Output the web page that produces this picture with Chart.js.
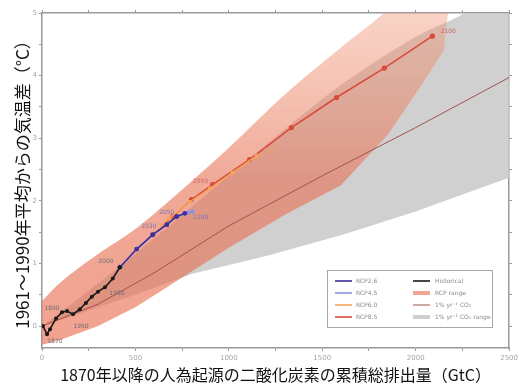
<!DOCTYPE html>
<html>
<head>
<meta charset="utf-8">
<script src="https://cdn.jsdelivr.net/npm/chart.js@4.4.1/dist/chart.umd.min.js"></script>
<style>
  html, body { margin: 0; padding: 0; background: #fff; }
</style>
</head>
<body>
<canvas id="chart" width="521" height="385"></canvas>
<script>
// cumulative CO2 emissions since 1870 (GtC) vs temperature anomaly (°C)

const histX = [5, 27, 43, 75, 107, 134, 166, 203, 235, 267, 300, 337, 379, 417];
const histY = [0.0, -0.13, -0.05, 0.12, 0.22, 0.24, 0.19, 0.27, 0.37, 0.47, 0.55, 0.62, 0.76, 0.94];

const rcp26X = [417, 507, 593, 668, 721, 764];
const rcp26Y = [0.94, 1.23, 1.46, 1.62, 1.75, 1.80];
const rcp45X = [417, 507, 593, 668, 721, 780, 805];
const rcp45Y = [0.94, 1.23, 1.46, 1.62, 1.75, 1.81, 1.83];
const rcp60X = [593, 680, 790, 900, 1020, 1150];
const rcp60Y = [1.46, 1.72, 1.98, 2.20, 2.45, 2.72];
const rcp85X = [593, 700, 800, 913, 1111, 1335, 1576, 1832, 2089];
const rcp85Y = [1.46, 1.75, 2.02, 2.26, 2.66, 3.17, 3.65, 4.12, 4.63];

// RCP range plume
const rcpRangeX = [0, 100, 300, 500, 700, 1000, 1300, 1600, 1850, 2020, 2150, 2180];
const rcpRangeHi = [0.40, 0.70, 1.15, 1.55, 2.05, 2.85, 3.70, 4.45, 5.05, 5.60, 6.00, 6.10];
const rcpRangeLo = [-0.30, -0.22, 0.00, 0.30, 0.68, 1.25, 1.78, 2.25, 3.05, 3.80, 4.40, 5.20];

// 1% per year CO2 runs
const onePctX = [0, 300, 600, 1000, 1500, 2000, 2500];
const onePctY = [0.0, 0.35, 0.85, 1.60, 2.40, 3.17, 3.97];
const onePctRangeX = [0, 200, 500, 800, 1200, 1600, 2000, 2250, 2500];
const onePctRangeHi = [0.0, 0.45, 1.15, 1.90, 2.90, 3.85, 4.62, 4.98, 5.50];
const onePctRangeLo = [0.0, 0.20, 0.50, 0.83, 1.12, 1.45, 1.83, 2.10, 2.37];

const xTicks = [0, 250, 500, 750, 1000, 1250, 1500, 1750, 2000, 2250, 2500];
const yTicks = [0, 0.5, 1, 1.5, 2, 2.5, 3, 3.5, 4, 4.5, 5];

const xTitle = '1870年以降の人為起源の二酸化炭素の累積総排出量（GtC）';
const yTitle = '1961～1990年平均からの気温差（°C）';

const legendLeft = ['RCP2.6', 'RCP4.5', 'RCP6.0', 'RCP8.5'];
const legendRight = ['Historical', 'RCP range', '1% yr⁻¹ CO₂', '1% yr⁻¹ CO₂ range'];

// year tags next to points: [series, point index, text, dx, dy]
const yearTags = [
  ['Historical', 0, '1870', 12, 15],
  ['Historical', 3, '1890', -4, -10],
  ['Historical', 6, '1950', 8, 12],
  ['Historical', 11, '1980', 12, 6],
  ['Historical', 13, '2000', -14, -6],
  ['RCP2.6', 2, '2030', -4, -8],
  ['RCP2.6', 3, '2050', 0, -12],
  ['RCP2.6', 5, '2100', 16, 4],
  ['RCP8.5', 3, '2050', -12, -3],
  ['RCP6.0', 5, '2100', 14, -4],
  ['RCP8.5', 8, '2100', 16, -5]
];

const pts = (xs, ys) => xs.map((x, i) => ({ x, y: ys[i] }));

const C = {
  rcp26: '#3a2f9c',
  rcp45: '#8a92da',
  rcp60: '#f3a45e',
  rcp85: '#da4a3b',
  hist: '#1a1a1a',
  onePct: '#a0524a',
  rcpRange: 'rgba(232, 112, 82, 0.62)',
  onePctRange: 'rgba(200, 200, 200, 0.85)'
};

// plume gets paler towards the top, as in the original
function plumeFill(context) {
  const chart = context.chart;
  const area = chart.chartArea;
  if (!area) return C.rcpRange;
  const g = chart.ctx.createLinearGradient(0, area.bottom, 0, area.top);
  g.addColorStop(0, 'rgba(232, 110, 80, 0.64)');
  g.addColorStop(0.5, 'rgba(232, 112, 82, 0.6)');
  g.addColorStop(1, 'rgba(240, 150, 118, 0.42)');
  return g;
}

function lineSet(label, xs, ys, color, width, radius, order) {
  return {
    label, data: pts(xs, ys), showLine: true, borderColor: color, backgroundColor: color,
    borderWidth: width, pointRadius: radius, pointHoverRadius: radius, pointBorderWidth: 0,
    fill: false, order, tension: 0
  };
}

const datasets = [
  lineSet('Historical', histX, histY, C.hist, 1.6, 2, 1),
  lineSet('RCP2.6', rcp26X, rcp26Y, C.rcp26, 1.6, 2.4, 2),
  lineSet('RCP4.5', rcp45X, rcp45Y, C.rcp45, 1.6, 2.2, 3),
  lineSet('RCP6.0', rcp60X, rcp60Y, C.rcp60, 1.6, 2.2, 4),
  lineSet('RCP8.5', rcp85X, rcp85Y, C.rcp85, 1.6, 2.6, 5),
  lineSet('1% yr⁻¹ CO₂', onePctX, onePctY, C.onePct, 1, 0, 6),
  // index 6, 7: RCP range
  { label: 'rcpLo', data: pts(rcpRangeX, rcpRangeLo), showLine: true, borderWidth: 0, borderColor: 'transparent', pointRadius: 0, fill: false, order: 7 },
  { label: 'RCP range', data: pts(rcpRangeX, rcpRangeHi), showLine: true, borderWidth: 0, borderColor: 'transparent', pointRadius: 0, fill: 6, backgroundColor: plumeFill, order: 8, tension: 0.3 },
  // index 8, 9: 1% range
  { label: 'onePctLo', data: pts(onePctRangeX, onePctRangeLo), showLine: true, borderWidth: 0, borderColor: 'transparent', pointRadius: 0, fill: false, order: 9 },
  { label: '1% yr⁻¹ CO₂ range', data: pts(onePctRangeX, onePctRangeHi), showLine: true, borderWidth: 0, borderColor: 'transparent', pointRadius: 0, fill: 8, backgroundColor: C.onePctRange, order: 10, tension: 0.3 }
];

const legendStyle = {
  'RCP2.6': { c: C.rcp26, t: 'line' },
  'RCP4.5': { c: C.rcp45, t: 'line' },
  'RCP6.0': { c: C.rcp60, t: 'line' },
  'RCP8.5': { c: C.rcp85, t: 'line' },
  'Historical': { c: C.hist, t: 'line' },
  'RCP range': { c: C.rcpRange, t: 'box' },
  '1% yr⁻¹ CO₂': { c: C.onePct, t: 'thin' },
  '1% yr⁻¹ CO₂ range': { c: '#cfcfcf', t: 'box' }
};

const boxLegend = {
  id: 'boxLegend',
  afterDatasetsDraw(chart) {
    const ctx = chart.ctx;
    const x0 = 327, y0 = 270, w = 165, h = 57;
    ctx.save();
    ctx.fillStyle = '#fff';
    ctx.fillRect(x0, y0, w, h);
    ctx.strokeStyle = '#a8a8a8';
    ctx.lineWidth = 1;
    ctx.strokeRect(x0 + 0.5, y0 + 0.5, w, h);
    ctx.font = '6px "DejaVu Sans", sans-serif';
    ctx.textBaseline = 'middle';
    const drawCol = (names, lx, tx) => {
      names.forEach((n, i) => {
        const y = y0 + 11 + i * 12;
        const s = legendStyle[n];
        if (s.t === 'box') {
          ctx.fillStyle = s.c;
          ctx.fillRect(lx, y - 2, 17, 4);
        } else {
          ctx.strokeStyle = s.c;
          ctx.lineWidth = s.t === 'thin' ? 1 : 1.6;
          ctx.beginPath(); ctx.moveTo(lx, y); ctx.lineTo(lx + 17, y); ctx.stroke();
        }
        ctx.fillStyle = '#8a8a8a';
        ctx.fillText(n, tx, y);
      });
    };
    drawCol(legendLeft, x0 + 8, x0 + 29);
    drawCol(legendRight, x0 + 86, x0 + 108);
    ctx.restore();
  }
};

const yearLabels = {
  id: 'yearLabels',
  afterDatasetsDraw(chart) {
    const ctx = chart.ctx;
    ctx.save();
    ctx.font = '6px "DejaVu Sans", sans-serif';
    ctx.textAlign = 'center';
    ctx.textBaseline = 'middle';
    yearTags.forEach(([name, idx, text, dx, dy]) => {
      const di = chart.data.datasets.findIndex(d => d.label === name);
      const el = chart.getDatasetMeta(di).data[idx];
      if (!el) return;
      ctx.fillStyle = name.startsWith('RCP8') ? '#c66' : name.startsWith('RCP6') ? '#e9a070' : name.startsWith('RCP2') ? '#7a74b0' : '#6e6e6e';
      ctx.fillText(text, el.x + dx, el.y + dy);
    });
    ctx.restore();
  }
};

const axisGrey = '#9a9a9a';
const tickFont = { family: '"DejaVu Sans", sans-serif', size: 7 };
const titleFont = { family: '"Noto Sans CJK JP", sans-serif', size: 16 };

new Chart(document.getElementById('chart'), {
  type: 'scatter',
  data: { datasets },
  options: {
    responsive: false,
    animation: false,
    events: [],
    layout: { padding: 0 },
    plugins: { legend: { display: false }, tooltip: { enabled: false } },
    scales: {
      x: {
        type: 'linear', position: 'bottom', min: 0, max: 2500,
        afterBuildTicks: a => { a.ticks = xTicks.map(v => ({ value: v })); },
        afterFit: s => { s.height = 37; },
        ticks: { font: tickFont, color: '#a6a6a6', padding: 3, maxRotation: 0, autoSkip: false,
                 callback: v => (v % 500 === 0 ? String(v) : '') },
        grid: { drawOnChartArea: false, tickLength: 3, color: axisGrey },
        border: { color: axisGrey, width: 1.5 },
        title: { display: true, text: xTitle, font: titleFont, color: '#111', padding: 0 }
      },
      x2: {
        type: 'linear', position: 'top', min: 0, max: 2500,
        afterBuildTicks: a => { a.ticks = xTicks.map(v => ({ value: v })); },
        afterFit: s => { s.height = 13; },
        ticks: { display: false },
        grid: { drawOnChartArea: false, tickLength: 3, color: axisGrey },
        border: { color: axisGrey, width: 1.5 }
      },
      y: {
        type: 'linear', position: 'left', min: -0.35, max: 5,
        afterBuildTicks: a => { a.ticks = yTicks.map(v => ({ value: v })); },
        afterFit: s => { s.width = 42; },
        ticks: { font: tickFont, color: '#a6a6a6', padding: 2, autoSkip: false,
                 callback: v => (Number.isInteger(v) ? String(v) : '') },
        grid: { drawOnChartArea: false, tickLength: 3, color: axisGrey },
        border: { color: axisGrey, width: 1.5 },
        title: { display: true, text: yTitle, font: { ...titleFont, size: 17 }, color: '#111', padding: { top: 12, bottom: 0 } }
      },
      y2: {
        type: 'linear', position: 'right', min: -0.35, max: 5,
        afterBuildTicks: a => { a.ticks = yTicks.map(v => ({ value: v })); },
        afterFit: s => { s.width = 11; },
        ticks: { display: false },
        grid: { drawOnChartArea: false, tickLength: 3, color: axisGrey },
        border: { color: axisGrey, width: 1.5 }
      }
    }
  },
  plugins: [yearLabels, boxLegend]
});
</script>
</body>
</html>
